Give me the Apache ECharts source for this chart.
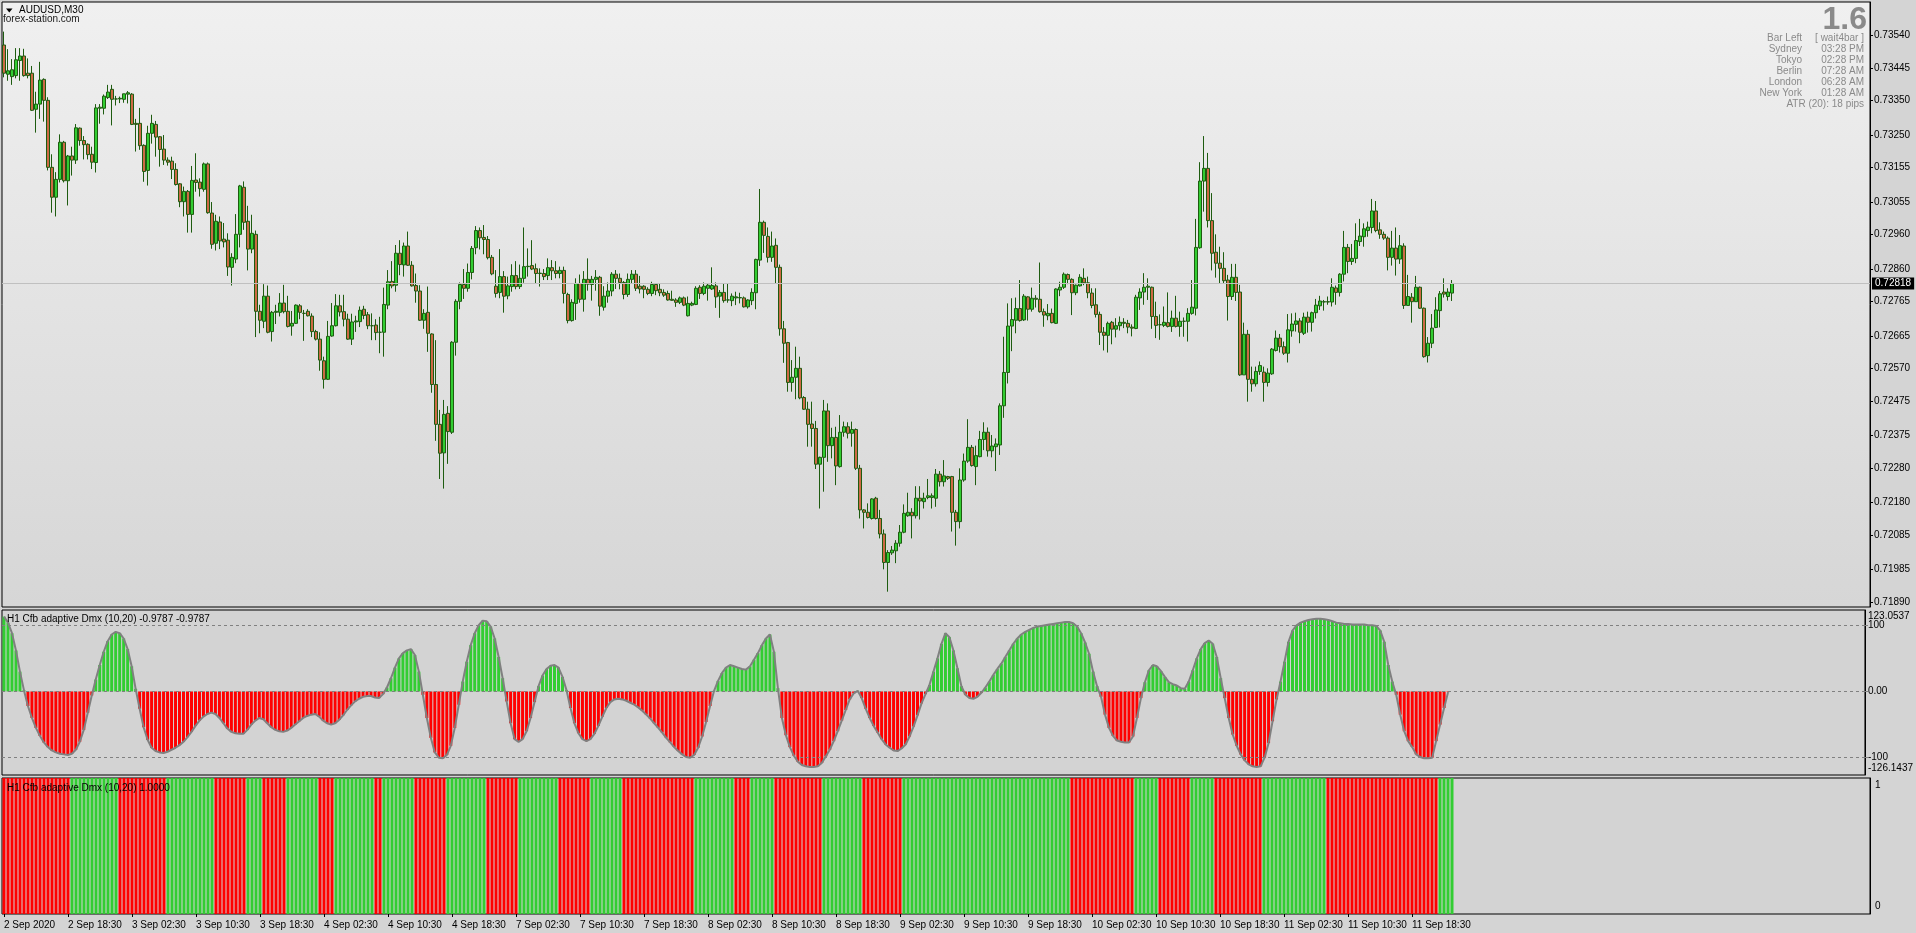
<!DOCTYPE html>
<html><head><meta charset="utf-8">
<script src="https://cdn.jsdelivr.net/npm/echarts@6/dist/echarts.min.js"></script>
<style>html,body{margin:0;padding:0;background:#d4d4d4;overflow:hidden}#c{width:1916px;height:933px}</style>
</head><body><div id="c"></div>
<script>
// ---- categories / ticks ----
const tradingDays = ['2 Sep','3 Sep','4 Sep','7 Sep','8 Sep','9 Sep','10 Sep','11 Sep'];
const firstSlot = 21; // first bar of 2 Sep is 10:30
const xTickLabels = ['2 Sep 2020','2 Sep 18:30','3 Sep 02:30','3 Sep 10:30','3 Sep 18:30','4 Sep 02:30','4 Sep 10:30','4 Sep 18:30','7 Sep 02:30','7 Sep 10:30','7 Sep 18:30','8 Sep 02:30','8 Sep 10:30','8 Sep 18:30','9 Sep 02:30','9 Sep 10:30','9 Sep 18:30','10 Sep 02:30','10 Sep 10:30','10 Sep 18:30','11 Sep 02:30','11 Sep 10:30','11 Sep 18:30'];
const xTickEvery = 16;
const priceTicks = [0.73540,0.73445,0.73350,0.73250,0.73155,0.73055,0.72960,0.72860,0.72765,0.72665,0.72570,0.72475,0.72375,0.72280,0.72180,0.72085,0.71985,0.71890];
const lastPrice = 0.72818;
const dmxMax = 123.0537, dmxMin = -126.1437;
const dmxLevels = [100, 0, -100];
const dmxLevelLabels = ['100', '0.00', '-100'];
const dmxRangeLabels = ['123.0537', '-126.1437'];
const trendTicks = [1, 0];

// ---- AUDUSD M30 OHLC ----
const open = [
0.73512,0.73427,0.73420,0.73423,0.73467,0.73480,0.73430,0.73430,0.73325,0.73340,
0.73412,0.73351,0.73156,0.73069,0.73121,0.73229,0.73117,0.73189,0.73177,0.73270,
0.73234,0.73223,0.73194,0.73170,0.73328,0.73328,0.73359,0.73383,0.73355,0.73355,
0.73354,0.73369,0.73369,0.73284,0.73284,0.73220,0.73147,0.73255,0.73281,0.73245,
0.73209,0.73177,0.73174,0.73150,0.73108,0.73056,0.73086,0.73019,0.73119,0.73113,
0.73092,0.73166,0.73023,0.72935,0.72997,0.72947,0.72944,0.72865,0.72889,0.72961,
0.73098,0.72999,0.72918,0.72961,0.72737,0.72708,0.72781,0.72678,0.72734,0.72734,
0.72761,0.72737,0.72694,0.72702,0.72753,0.72731,0.72737,0.72723,0.72678,0.72656,
0.72593,0.72539,0.72665,0.72695,0.72753,0.72736,0.72714,0.72656,0.72706,0.72707,
0.72743,0.72727,0.72695,0.72697,0.72676,0.72676,0.72755,0.72824,0.72813,0.72906,
0.72872,0.72927,0.72871,0.72812,0.72796,0.72711,0.72734,0.72671,0.72524,0.72408,
0.72325,0.72440,0.72385,0.72647,0.72766,0.72815,0.72804,0.72850,0.72922,0.72972,
0.72952,0.72946,0.72894,0.72810,0.72792,0.72838,0.72782,0.72809,0.72841,0.72809,
0.72833,0.72867,0.72870,0.72861,0.72847,0.72847,0.72841,0.72864,0.72855,0.72847,
0.72856,0.72786,0.72710,0.72760,0.72818,0.72772,0.72830,0.72815,0.72830,0.72836,
0.72749,0.72781,0.72796,0.72845,0.72833,0.72821,0.72786,0.72830,0.72845,0.72810,
0.72810,0.72801,0.72789,0.72815,0.72801,0.72792,0.72789,0.72772,0.72770,0.72763,
0.72776,0.72724,0.72755,0.72757,0.72807,0.72789,0.72804,0.72802,0.72811,0.72781,
0.72792,0.72770,0.72768,0.72776,0.72776,0.72776,0.72750,0.72768,0.72791,0.72886,
0.72996,0.72955,0.72894,0.72929,0.72865,0.72686,0.72646,0.72530,0.72545,0.72571,
0.72486,0.72452,0.72409,0.72396,0.72292,0.72312,0.72447,0.72346,0.72370,0.72285,
0.72385,0.72401,0.72382,0.72393,0.72280,0.72159,0.72152,0.72134,0.72193,0.72134,
0.72089,0.72006,0.72034,0.72040,0.72062,0.72094,0.72142,0.72152,0.72142,0.72193,
0.72183,0.72195,0.72195,0.72193,0.72263,0.72241,0.72256,0.72256,0.72152,0.72125,
0.72246,0.72301,0.72341,0.72285,0.72314,0.72364,0.72385,0.72331,0.72343,0.72348,
0.72462,0.72559,0.72694,0.72711,0.72745,0.72712,0.72779,0.72743,0.72775,0.72772,
0.72736,0.72724,0.72731,0.72702,0.72799,0.72807,0.72844,0.72830,0.72791,0.72811,
0.72833,0.72820,0.72790,0.72756,0.72728,0.72676,0.72667,0.72705,0.72685,0.72695,
0.72705,0.72702,0.72691,0.72687,0.72776,0.72793,0.72807,0.72807,0.72722,0.72698,
0.72696,0.72704,0.72693,0.72717,0.72693,0.72708,0.72708,0.72731,0.72746,0.72922,
0.73116,0.73153,0.73001,0.72909,0.72877,0.72862,0.72828,0.72780,0.72836,0.72793,
0.72552,0.72670,0.72539,0.72526,0.72562,0.72560,0.72530,0.72555,0.72623,0.72659,
0.72634,0.72615,0.72680,0.72699,0.72709,0.72673,0.72720,0.72705,0.72733,0.72753,
0.72764,0.72765,0.72764,0.72805,0.72792,0.72845,0.72923,0.72882,0.72891,0.72940,
0.72954,0.72972,0.72981,0.73029,0.72974,0.72961,0.72950,0.72894,0.72921,0.72889,
0.72927,0.72754,0.72778,0.72765,0.72807,0.72746,0.72608,0.72644,0.72690,0.72739,
0.72793,0.72780,0.72790];
const high = [
0.73551,0.73500,0.73471,0.73503,0.73503,0.73501,0.73473,0.73451,0.73376,0.73463,
0.73415,0.73360,0.73194,0.73142,0.73252,0.73233,0.73192,0.73216,0.73282,0.73272,
0.73247,0.73226,0.73216,0.73340,0.73340,0.73368,0.73396,0.73396,0.73364,0.73362,
0.73370,0.73378,0.73372,0.73297,0.73329,0.73223,0.73277,0.73309,0.73291,0.73247,
0.73250,0.73185,0.73187,0.73168,0.73110,0.73100,0.73090,0.73160,0.73197,0.73124,
0.73170,0.73170,0.73055,0.73018,0.73013,0.72994,0.72964,0.72906,0.73020,0.73105,
0.73115,0.73044,0.73018,0.72972,0.72756,0.72816,0.72812,0.72738,0.72756,0.72790,
0.72814,0.72782,0.72738,0.72757,0.72758,0.72741,0.72743,0.72731,0.72683,0.72676,
0.72605,0.72709,0.72761,0.72787,0.72785,0.72785,0.72730,0.72730,0.72724,0.72751,
0.72753,0.72735,0.72731,0.72714,0.72721,0.72806,0.72857,0.72883,0.72930,0.72944,
0.72937,0.72969,0.72883,0.72847,0.72813,0.72743,0.72809,0.72673,0.72653,0.72450,
0.72479,0.72461,0.72650,0.72772,0.72821,0.72860,0.72876,0.72927,0.72985,0.72981,
0.72988,0.72956,0.72901,0.72857,0.72918,0.72854,0.72838,0.72874,0.72883,0.72873,
0.72981,0.72920,0.72944,0.72876,0.72862,0.72860,0.72891,0.72886,0.72883,0.72867,
0.72867,0.72791,0.72772,0.72833,0.72844,0.72854,0.72891,0.72840,0.72857,0.72840,
0.72810,0.72821,0.72851,0.72857,0.72847,0.72825,0.72847,0.72857,0.72857,0.72840,
0.72813,0.72807,0.72823,0.72818,0.72818,0.72801,0.72797,0.72797,0.72775,0.72780,
0.72780,0.72780,0.72765,0.72810,0.72813,0.72821,0.72818,0.72865,0.72821,0.72799,
0.72818,0.72818,0.72789,0.72794,0.72791,0.72780,0.72772,0.72804,0.72890,0.73093,
0.73001,0.72981,0.72969,0.72949,0.72873,0.72709,0.72648,0.72595,0.72634,0.72605,
0.72490,0.72474,0.72474,0.72418,0.72314,0.72479,0.72469,0.72398,0.72401,0.72435,
0.72416,0.72414,0.72416,0.72396,0.72290,0.72161,0.72178,0.72193,0.72197,0.72159,
0.72102,0.72042,0.72054,0.72071,0.72115,0.72175,0.72209,0.72164,0.72228,0.72228,
0.72209,0.72249,0.72207,0.72278,0.72272,0.72304,0.72258,0.72258,0.72159,0.72280,
0.72323,0.72423,0.72348,0.72346,0.72389,0.72414,0.72399,0.72377,0.72367,0.72469,
0.72663,0.72760,0.72775,0.72777,0.72828,0.72787,0.72781,0.72806,0.72784,0.72879,
0.72745,0.72758,0.72745,0.72804,0.72823,0.72850,0.72847,0.72833,0.72815,0.72845,
0.72862,0.72838,0.72804,0.72804,0.72736,0.72691,0.72707,0.72709,0.72717,0.72722,
0.72717,0.72712,0.72699,0.72785,0.72804,0.72848,0.72833,0.72809,0.72765,0.72728,
0.72751,0.72792,0.72739,0.72782,0.72736,0.72719,0.72746,0.72828,0.73006,0.73171,
0.73247,0.73198,0.73081,0.72961,0.72925,0.72909,0.72843,0.72875,0.72875,0.72814,
0.72704,0.72683,0.72576,0.72576,0.72591,0.72576,0.72571,0.72630,0.72681,0.72671,
0.72649,0.72729,0.72731,0.72733,0.72717,0.72733,0.72736,0.72736,0.72773,0.72782,
0.72770,0.72780,0.72833,0.72812,0.72848,0.72971,0.72933,0.72933,0.72993,0.73006,
0.72993,0.72998,0.73064,0.73058,0.72996,0.72969,0.72955,0.72971,0.72981,0.72959,
0.72935,0.72843,0.72790,0.72840,0.72809,0.72748,0.72662,0.72729,0.72778,0.72796,
0.72833,0.72804,0.72828];
const low = [
0.73418,0.73408,0.73396,0.73415,0.73408,0.73420,0.73415,0.73320,0.73257,0.73297,
0.73289,0.73147,0.73024,0.73013,0.73112,0.73112,0.73045,0.73132,0.73166,0.73219,
0.73179,0.73179,0.73151,0.73141,0.73283,0.73310,0.73355,0.73278,0.73336,0.73343,
0.73344,0.73342,0.73279,0.73202,0.73207,0.73114,0.73103,0.73225,0.73187,0.73158,
0.73163,0.73161,0.73122,0.73103,0.73040,0.73013,0.72966,0.72966,0.73085,0.73071,
0.73085,0.73021,0.72919,0.72914,0.72918,0.72923,0.72840,0.72812,0.72877,0.72923,
0.72974,0.72856,0.72906,0.72662,0.72673,0.72688,0.72673,0.72649,0.72700,0.72722,
0.72731,0.72690,0.72666,0.72700,0.72714,0.72651,0.72722,0.72662,0.72652,0.72564,
0.72512,0.72537,0.72663,0.72693,0.72722,0.72693,0.72654,0.72639,0.72677,0.72691,
0.72714,0.72685,0.72653,0.72653,0.72615,0.72605,0.72743,0.72804,0.72794,0.72842,
0.72838,0.72869,0.72809,0.72762,0.72709,0.72686,0.72619,0.72500,0.72360,0.72249,
0.72221,0.72293,0.72380,0.72608,0.72743,0.72773,0.72794,0.72830,0.72903,0.72917,
0.72903,0.72888,0.72842,0.72777,0.72775,0.72733,0.72772,0.72794,0.72801,0.72802,
0.72820,0.72838,0.72857,0.72818,0.72809,0.72828,0.72828,0.72828,0.72833,0.72833,
0.72760,0.72702,0.72707,0.72712,0.72762,0.72736,0.72797,0.72768,0.72797,0.72724,
0.72739,0.72762,0.72781,0.72802,0.72801,0.72772,0.72779,0.72818,0.72796,0.72789,
0.72775,0.72784,0.72781,0.72784,0.72781,0.72779,0.72768,0.72768,0.72750,0.72758,
0.72752,0.72722,0.72752,0.72755,0.72773,0.72784,0.72768,0.72799,0.72747,0.72718,
0.72762,0.72762,0.72752,0.72755,0.72760,0.72748,0.72745,0.72755,0.72743,0.72869,
0.72907,0.72879,0.72881,0.72818,0.72666,0.72587,0.72503,0.72503,0.72481,0.72481,
0.72450,0.72343,0.72343,0.72278,0.72163,0.72212,0.72299,0.72309,0.72231,0.72282,
0.72372,0.72367,0.72343,0.72275,0.72134,0.72105,0.72134,0.72131,0.72131,0.72076,
0.71986,0.71921,0.72028,0.72004,0.72052,0.72091,0.72139,0.72076,0.72134,0.72131,
0.72163,0.72190,0.72163,0.72168,0.72227,0.72227,0.72246,0.72096,0.72055,0.72105,
0.72241,0.72296,0.72285,0.72231,0.72312,0.72333,0.72314,0.72312,0.72272,0.72319,
0.72427,0.72527,0.72621,0.72673,0.72707,0.72709,0.72710,0.72736,0.72748,0.72733,
0.72692,0.72711,0.72702,0.72700,0.72781,0.72802,0.72816,0.72726,0.72784,0.72809,
0.72813,0.72775,0.72746,0.72719,0.72639,0.72623,0.72617,0.72641,0.72661,0.72681,
0.72688,0.72673,0.72664,0.72685,0.72741,0.72756,0.72770,0.72686,0.72659,0.72654,
0.72691,0.72690,0.72677,0.72690,0.72663,0.72663,0.72649,0.72727,0.72725,0.72919,
0.73027,0.72981,0.72856,0.72835,0.72819,0.72817,0.72710,0.72770,0.72767,0.72549,
0.72552,0.72474,0.72503,0.72518,0.72552,0.72474,0.72518,0.72552,0.72620,0.72617,
0.72610,0.72588,0.72663,0.72678,0.72644,0.72668,0.72675,0.72678,0.72716,0.72741,
0.72739,0.72756,0.72751,0.72756,0.72780,0.72824,0.72848,0.72872,0.72877,0.72927,
0.72925,0.72954,0.72964,0.72967,0.72948,0.72945,0.72856,0.72870,0.72841,0.72875,
0.72744,0.72754,0.72704,0.72765,0.72744,0.72602,0.72588,0.72630,0.72688,0.72690,
0.72777,0.72768,0.72767];
const close = [
0.73430,0.73437,0.73440,0.73469,0.73480,0.73423,0.73423,0.73322,0.73340,0.73410,
0.73351,0.73156,0.73069,0.73121,0.73229,0.73117,0.73189,0.73177,0.73271,0.73234,
0.73222,0.73193,0.73171,0.73329,0.73331,0.73363,0.73375,0.73354,0.73355,0.73357,
0.73370,0.73373,0.73281,0.73281,0.73219,0.73144,0.73255,0.73284,0.73244,0.73208,
0.73177,0.73171,0.73150,0.73106,0.73056,0.73086,0.73019,0.73118,0.73112,0.73094,
0.73166,0.73024,0.72932,0.72999,0.72942,0.72939,0.72866,0.72894,0.72961,0.73102,
0.72996,0.72918,0.72964,0.72737,0.72711,0.72781,0.72676,0.72734,0.72737,0.72761,
0.72736,0.72693,0.72702,0.72755,0.72734,0.72731,0.72724,0.72678,0.72656,0.72595,
0.72539,0.72664,0.72695,0.72753,0.72735,0.72714,0.72656,0.72706,0.72709,0.72740,
0.72725,0.72695,0.72695,0.72675,0.72676,0.72757,0.72823,0.72811,0.72906,0.72873,
0.72927,0.72871,0.72811,0.72796,0.72711,0.72731,0.72673,0.72524,0.72408,0.72324,
0.72437,0.72387,0.72647,0.72766,0.72815,0.72804,0.72850,0.72920,0.72972,0.72951,
0.72946,0.72893,0.72846,0.72789,0.72838,0.72781,0.72811,0.72841,0.72809,0.72833,
0.72867,0.72868,0.72860,0.72847,0.72848,0.72838,0.72864,0.72855,0.72847,0.72856,
0.72789,0.72710,0.72763,0.72818,0.72772,0.72830,0.72816,0.72830,0.72836,0.72752,
0.72781,0.72796,0.72845,0.72833,0.72821,0.72786,0.72830,0.72845,0.72804,0.72802,
0.72801,0.72789,0.72815,0.72797,0.72791,0.72784,0.72770,0.72769,0.72763,0.72776,
0.72755,0.72760,0.72760,0.72804,0.72789,0.72810,0.72813,0.72812,0.72779,0.72792,
0.72768,0.72770,0.72781,0.72779,0.72777,0.72750,0.72770,0.72792,0.72888,0.72996,
0.72958,0.72894,0.72927,0.72865,0.72686,0.72644,0.72530,0.72545,0.72571,0.72485,
0.72452,0.72408,0.72396,0.72292,0.72312,0.72447,0.72346,0.72370,0.72287,0.72385,
0.72401,0.72382,0.72393,0.72280,0.72159,0.72152,0.72137,0.72191,0.72134,0.72089,
0.72006,0.72035,0.72042,0.72062,0.72094,0.72149,0.72152,0.72142,0.72193,0.72185,
0.72193,0.72200,0.72200,0.72263,0.72241,0.72258,0.72251,0.72152,0.72125,0.72246,
0.72301,0.72341,0.72288,0.72317,0.72364,0.72385,0.72331,0.72345,0.72351,0.72462,
0.72559,0.72694,0.72713,0.72745,0.72710,0.72781,0.72743,0.72775,0.72772,0.72736,
0.72726,0.72731,0.72704,0.72802,0.72807,0.72845,0.72830,0.72791,0.72813,0.72836,
0.72820,0.72791,0.72754,0.72728,0.72676,0.72667,0.72702,0.72685,0.72695,0.72705,
0.72702,0.72691,0.72688,0.72778,0.72793,0.72807,0.72810,0.72722,0.72696,0.72698,
0.72705,0.72693,0.72717,0.72693,0.72708,0.72708,0.72731,0.72749,0.72923,0.73116,
0.73153,0.73001,0.72906,0.72877,0.72862,0.72826,0.72780,0.72836,0.72792,0.72552,
0.72670,0.72539,0.72526,0.72562,0.72579,0.72530,0.72557,0.72627,0.72659,0.72634,
0.72615,0.72683,0.72700,0.72709,0.72676,0.72720,0.72705,0.72733,0.72755,0.72767,
0.72765,0.72764,0.72807,0.72792,0.72845,0.72923,0.72882,0.72891,0.72943,0.72956,
0.72977,0.72982,0.73029,0.72972,0.72961,0.72950,0.72894,0.72921,0.72889,0.72928,
0.72754,0.72780,0.72765,0.72807,0.72746,0.72605,0.72644,0.72688,0.72741,0.72788,
0.72787,0.72793,0.72818];

// ---- H1 Cfb adaptive Dmx (10,20) ----
const dmx = [
113,104,88,62,30,2,-22,-40,-55,-67,-77,-84,-89,-92,-94,-95,-96,
-94,-88,-76,-58,-32,-6,18,40,60,76,86,90,
88,80,64,38,4,-26,-54,-73,-85,-90,-92,-93,
-91,-88,-85,-81,-76,-69,-61,-52,-44,-38,-34,-32,
-34,-40,-48,-56,-61,-63,-64,-64,
-58,-50,-44,-40,
-42,-48,-54,-58,-60,-61,
-59,-55,-50,-45,-40,-37,-35,-34,
-38,-44,-48,-50,
-48,-43,-36,-28,-21,-15,-11,-8,-7,-7,
-9,-10,
-4,6,20,36,50,58,62,64,
55,30,-5,-40,-70,-92,-100,-101,
-96,-82,-55,-20,15,45,70,88,100,107,
106,98,80,52,20,-15,-48,-72,
-76,-72,-60,-40,-16,8,24,34,39,40,
36,22,2,-25,-48,-63,-72,-75,
-72,-64,-52,-38,-25,-16,-12,-11,
-12,-14,-17,-20,-24,-29,-35,-41,-48,-55,-62,-70,-77,-84,-90,-95,-99,-100,
-96,-85,-68,-46,-22,1,16,28,36,40,
38,36,34,33,
38,48,58,70,80,86,
60,5,-40,-66,-84,-97,-106,-111,-113,-114,-114,-113,
-108,-98,-88,-75,-60,-44,-28,-12,-3,1,
-10,-26,-40,-52,-62,-72,-80,-85,-89,-90,
-86,-80,-68,-53,-36,-18,-4,10,30,50,72,88,82,62,35,8,-5,-10,-11,-8,-2,6,15,25,34,42,52,62,72,80,86,90,93,96,98,99,100,101,102,103,104,105,
105,103,98,88,74,57,30,8,-8,-35,-55,-67,-74,-76,-77,-77,
-68,-40,-10,14,32,40,
38,31,22,14,11,9,5,4,
15,32,50,64,73,77,
72,52,20,-10,-40,-65,-82,-95,-104,-110,-113,-114,
-113,-100,-78,-45,-12,15,45,75,92,100,104,106,108,109,110,110,
109,108,106,104,103,102,102,101,101,101,101,100,100,99,92,75,40,15,-5,-35,-60,-75,-84,-95,-99,-101,-101,-100,
-75,-50,-25,-0.9787];

// ---- bottom panel: 1 = green state, 0 = red state ----
const trendState = [
0,0,0,0,0,0,0,0,0,0,0,0,0,0,0,0,0,
1,1,1,1,1,1,1,1,1,1,1,1,
0,0,0,0,0,0,0,0,0,0,0,0,
1,1,1,1,1,1,1,1,1,1,1,1,
0,0,0,0,0,0,0,0,
1,1,1,1,
0,0,0,0,0,0,
1,1,1,1,1,1,1,1,
0,0,0,0,
1,1,1,1,1,1,1,1,1,1,
0,0,
1,1,1,1,1,1,1,1,
0,0,0,0,0,0,0,0,
1,1,1,1,1,1,1,1,1,1,
0,0,0,0,0,0,0,0,
1,1,1,1,1,1,1,1,1,1,
0,0,0,0,0,0,0,0,
1,1,1,1,1,1,1,1,
0,0,0,0,0,0,0,0,0,0,0,0,0,0,0,0,0,0,
1,1,1,1,1,1,1,1,1,1,
0,0,0,0,
1,1,1,1,1,1,
0,0,0,0,0,0,0,0,0,0,0,0,
1,1,1,1,1,1,1,1,1,1,
0,0,0,0,0,0,0,0,0,0,
1,1,1,1,1,1,1,1,1,1,1,1,1,1,1,1,1,1,1,1,1,1,1,1,1,1,1,1,1,1,1,1,1,1,1,1,1,1,1,1,1,1,
0,0,0,0,0,0,0,0,0,0,0,0,0,0,0,0,
1,1,1,1,1,1,
0,0,0,0,0,0,0,0,
1,1,1,1,1,1,
0,0,0,0,0,0,0,0,0,0,0,0,
1,1,1,1,1,1,1,1,1,1,1,1,1,1,1,1,
0,0,0,0,0,0,0,0,0,0,0,0,0,0,0,0,0,0,0,0,0,0,0,0,0,0,0,0,
1,1,1,1];

// ---- build ----
const categories = [];
tradingDays.forEach((d, k) => {
  for (let s = (k === 0 ? firstSlot : 0); s < 48; s++) {
    categories.push(d + ' ' + String(Math.floor(s / 2)).padStart(2, '0') + ':' + (s % 2 ? '30' : '00'));
  }
});
const SLOTS = 467; // chart keeps empty space to the right of the last bar
for (let k = categories.length; k < SLOTS; k++) categories.push('pad' + k);
const nBars = open.length;

const GREEN = '#32CD32', RED = '#FF0000', FONT = 'Liberation Sans';
const L = 2, R = 46;
const grids = [
  {left: L, right: R, top: 2, height: 605, show: true, borderColor: '#000', borderWidth: 1,
   backgroundColor: {type: 'linear', x: 0, y: 0, x2: 0, y2: 1, colorStops: [{offset: 0, color: '#f0f0f0'}, {offset: 1, color: '#d6d6d6'}]}},
  {left: L, right: R, top: 610, height: 165, show: true, borderColor: '#000', borderWidth: 1, backgroundColor: '#d3d3d3'},
  {left: L, right: R, top: 778, height: 136, show: true, borderColor: '#000', borderWidth: 1, backgroundColor: '#d3d3d3'}
];
const isTick = (idx) => idx < nBars && idx % xTickEvery === 0;
const xAxes = [0, 1, 2].map(g => ({
  type: 'category', gridIndex: g, data: categories, boundaryGap: true,
  show: g === 2,
  axisLine: {show: false},
  axisTick: {show: g === 2, interval: isTick, alignWithLabel: true, length: 3, lineStyle: {color: '#000'}},
  axisLabel: {show: g === 2, interval: isTick, align: 'left', margin: 6, color: '#000', fontSize: 10, fontFamily: FONT,
    formatter: (v, idx) => xTickLabels[Math.round(idx / xTickEvery)] || ''},
  splitLine: {show: false}
}));
const findIdx = (arr, v) => arr.findIndex(t => Math.abs(t - v) < 1e-6);
const lbl = {color: '#000', fontSize: 10, fontFamily: FONT};
const yAxes = [
  {type: 'value', gridIndex: 0, position: 'right', min: 0.718764, max: 0.736372, splitLine: {show: false},
   axisLine: {show: true, lineStyle: {color: '#000'}},
   axisTick: {show: true, customValues: priceTicks, length: 3, lineStyle: {color: '#000'}},
   axisLabel: Object.assign({customValues: priceTicks, margin: 4, formatter: v => v.toFixed(5)}, lbl)},
  // indicator panel: level labels
  {type: 'value', gridIndex: 1, position: 'right', min: dmxMin, max: dmxMax, splitLine: {show: false},
   axisLine: {show: true, lineStyle: {color: '#000'}},
   axisTick: {show: true, customValues: dmxLevels, length: 3, lineStyle: {color: '#808080'}},
   axisLabel: Object.assign({customValues: dmxLevels, margin: 3, formatter: v => dmxLevelLabels[findIdx(dmxLevels, v)]}, lbl)},
  {type: 'value', gridIndex: 2, position: 'right', min: 0, max: 1, splitLine: {show: false},
   axisLine: {show: true, lineStyle: {color: '#000'}}, axisTick: {show: false},
   axisLabel: Object.assign({customValues: trendTicks, margin: 5, showMinLabel: true, showMaxLabel: true,
     formatter: v => v > 0.5 ? '{t|1}' : '{b|0}',
     rich: {t: Object.assign({padding: [14, 0, 0, 0]}, lbl), b: Object.assign({padding: [0, 0, 16, 0]}, lbl)}}, lbl)},
  // indicator panel: scale range labels (max / min), kept inside the panel like the terminal does
  {type: 'value', gridIndex: 1, position: 'right', min: dmxMin, max: dmxMax, splitLine: {show: false},
   axisLine: {show: false}, axisTick: {show: false},
   axisLabel: Object.assign({customValues: [dmxMax, dmxMin], margin: 3, showMinLabel: true, showMaxLabel: true,
     formatter: v => v > 0 ? '{t|' + dmxRangeLabels[0] + '}' : '{b|' + dmxRangeLabels[1] + '}',
     rich: {t: Object.assign({padding: [12, 0, 0, 0]}, lbl), b: Object.assign({padding: [0, 0, 14, 0]}, lbl)}}, lbl)}
];

const candleData = open.map((o, i) => [o, close[i], low[i], high[i]]);
const infoRows = [['Bar Left', '[ wait4bar ]', 38], ['Sydney', '03:28 PM', 49], ['Tokyo', '02:28 PM', 60],
  ['Berlin', '07:28 AM', 71], ['London', '06:28 AM', 82], ['New York', '01:28 AM', 93]];
const infoColor = '#8a8a8a';
const graphics = [
  {type: 'polygon', z: 100, shape: {points: [[6, 8.5], [12.5, 8.5], [9.25, 12.5]]}, style: {fill: '#000'}},
  {type: 'text', z: 100, x: 19, y: 10.5, style: {text: 'AUDUSD,M30', font: '10px "Liberation Sans"', fill: '#000', textVerticalAlign: 'middle'}},
  {type: 'text', z: 100, x: 3, y: 19.5, style: {text: 'forex-station.com', font: '10px "Liberation Sans"', fill: '#1a1a1a', textVerticalAlign: 'middle'}},
  {type: 'text', z: 100, x: 1867, y: 20, style: {text: '1.6', font: 'bold 32px "Liberation Sans"', fill: infoColor, textAlign: 'right', textVerticalAlign: 'middle'}},
  {type: 'text', z: 100, x: 1864, y: 104, style: {text: 'ATR (20): 18 pips', font: '10px "Liberation Sans"', fill: infoColor, textAlign: 'right', textVerticalAlign: 'middle'}},
  {type: 'text', z: 100, x: 7, y: 619, style: {text: 'H1 Cfb adaptive Dmx (10,20) -0.9787 -0.9787', font: '10px "Liberation Sans"', fill: '#000', textVerticalAlign: 'middle'}},
  {type: 'text', z: 100, x: 7, y: 788, style: {text: 'H1 Cfb adaptive Dmx (10,20) 1.0000', font: '10px "Liberation Sans"', fill: '#000', textVerticalAlign: 'middle'}}
];
infoRows.forEach(r => {
  graphics.push({type: 'text', z: 100, x: 1802, y: r[2], style: {text: r[0], font: '10px "Liberation Sans"', fill: infoColor, textAlign: 'right', textVerticalAlign: 'middle'}});
  graphics.push({type: 'text', z: 100, x: 1864, y: r[2], style: {text: r[1], font: '10px "Liberation Sans"', fill: infoColor, textAlign: 'right', textVerticalAlign: 'middle'}});
});

const chart = echarts.init(document.getElementById('c'), null, {renderer: 'canvas'});
chart.setOption({
  animation: false,
  backgroundColor: '#d4d4d4',
  textStyle: {fontFamily: FONT},
  grid: grids, xAxis: xAxes, yAxis: yAxes,
  graphic: graphics,
  series: [
    // invisible carrier for the current-price line (bid line)
    {type: 'line', xAxisIndex: 0, yAxisIndex: 0, data: close, symbol: 'none', silent: true, z: 1,
     lineStyle: {opacity: 0},
     markLine: {silent: true, symbol: ['none', 'none'], animation: false, precision: 5,
       lineStyle: {color: '#c0c0c0', type: 'solid', width: 1},
       label: {show: true, position: 'end', distance: 2, formatter: () => lastPrice.toFixed(5), color: '#fff', backgroundColor: '#000',
         padding: [1, 3, 1, 3], fontSize: 10, fontFamily: FONT},
       data: [{yAxis: lastPrice}]}},
    {type: 'candlestick', xAxisIndex: 0, yAxisIndex: 0, data: candleData, barWidth: 3, z: 2,
     itemStyle: {color: GREEN, color0: '#CD6A45', borderColor: '#1E5C10', borderColor0: '#1E5C10', borderWidth: 1}},
    {type: 'bar', xAxisIndex: 1, yAxisIndex: 1, data: dmx, barWidth: 3,
     itemStyle: {color: p => p.value >= 0 ? GREEN : RED}},
    {type: 'line', xAxisIndex: 1, yAxisIndex: 1, data: dmx, symbol: 'none', z: 3,
     lineStyle: {color: '#808080', width: 2},
     markLine: {silent: true, symbol: ['none', 'none'], animation: false,
       lineStyle: {color: '#808080', type: [3, 3], width: 1}, label: {show: false},
       data: dmxLevels.map(v => ({yAxis: v}))}},
    {type: 'bar', xAxisIndex: 2, yAxisIndex: 2, barWidth: 3,
     data: trendState.map(s => ({value: 1, itemStyle: {color: s ? GREEN : RED}}))}
  ]
});
</script>
</body></html>
